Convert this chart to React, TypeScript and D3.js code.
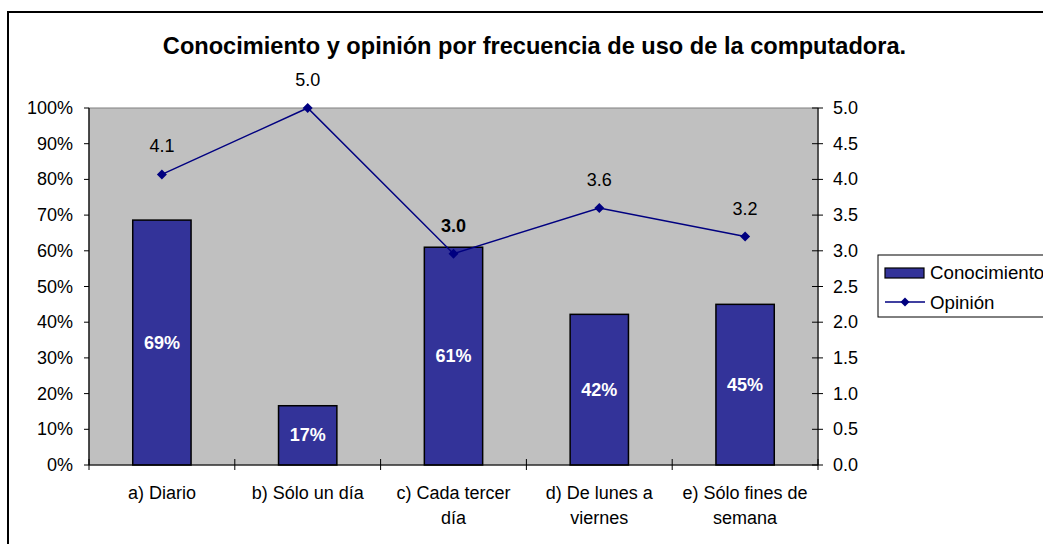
import React from "react";
import * as d3 from "d3";

const categories: string[][] = [
  ["a) Diario"],
  ["b) Sólo un día"],
  ["c) Cada tercer", "día"],
  ["d) De lunes a", "viernes"],
  ["e) Sólo fines de", "semana"],
];
const conocimiento: number[] = [0.686, 0.166, 0.61, 0.422, 0.45];
const conocimientoLabels: string[] = ["69%", "17%", "61%", "42%", "45%"];
const opinion: number[] = [4.07, 5.0, 2.96, 3.6, 3.2];
const opinionLabels: string[] = ["4.1", "5.0", "3.0", "3.6", "3.2"];
const leftTicks: number[] = [0, 0.1, 0.2, 0.3, 0.4, 0.5, 0.6, 0.7, 0.8, 0.9, 1.0];
const rightTicks: number[] = [0, 0.5, 1, 1.5, 2, 2.5, 3, 3.5, 4, 4.5, 5];

const W = 1043;
const H = 544;
const plot = { left: 89, right: 818, top: 108, bottom: 465 };
const FONT = "Liberation Sans, Arial, sans-serif";

export default function App() {
  const x = d3
    .scaleBand<number>()
    .domain(d3.range(categories.length))
    .range([plot.left, plot.right])
    .paddingInner(0.6)
    .paddingOuter(0.3);
  const band = (plot.right - plot.left) / categories.length;
  const yL = d3.scaleLinear().domain([0, 1]).range([plot.bottom, plot.top]);
  const yR = d3.scaleLinear().domain([0, 5]).range([plot.bottom, plot.top]);
  const cx = (i: number) => (x(i) as number) + x.bandwidth() / 2;

  const line = d3
    .line<number>()
    .x((_, i) => cx(i))
    .y((d) => yR(d));

  const diamond = (px: number, py: number, r = 5) =>
    `M${px},${py - r}L${px + r},${py}L${px},${py + r}L${px - r},${py}Z`;

  return (
    <svg
      width={W}
      height={H}
      style={{ position: "absolute", left: 0, top: 0 }}
      fontFamily={FONT}
    >
      <rect x={0} y={0} width={W} height={H} fill="#fff" />
      <rect x={8} y={12} width={1045} height={545} fill="#fff" stroke="#000" strokeWidth={2} />
      <text
        x={534.5}
        y={54}
        textAnchor="middle"
        fontWeight="bold"
        fontSize={23.6}
        fill="#000"
      >
        Conocimiento y opinión por frecuencia de uso de la computadora.
      </text>

      {/* plot area */}
      <rect
        x={plot.left}
        y={plot.top}
        width={plot.right - plot.left}
        height={plot.bottom - plot.top}
        fill="#c0c0c0"
        stroke="#808080"
        strokeWidth={1}
      />

      {/* bars */}
      {conocimiento.map((v, i) => (
        <rect
          key={i}
          x={x(i)}
          y={yL(v)}
          width={x.bandwidth()}
          height={yL(0) - yL(v)}
          fill="#333399"
          stroke="#000"
          strokeWidth={1.5}
        />
      ))}
      {conocimiento.map((v, i) => (
        <text
          key={i}
          x={cx(i)}
          y={(yL(v) + yL(0)) / 2 + 6}
          textAnchor="middle"
          fontWeight="bold"
          fontSize={18}
          fill="#fff"
        >
          {conocimientoLabels[i]}
        </text>
      ))}

      {/* axes */}
      <line x1={plot.left} x2={plot.left} y1={plot.top} y2={plot.bottom} stroke="#000" strokeWidth={1.2} />
      <line x1={plot.right} x2={plot.right} y1={plot.top} y2={plot.bottom} stroke="#333" strokeWidth={1.5} />
      <line x1={plot.left} x2={plot.right} y1={plot.bottom} y2={plot.bottom} stroke="#000" strokeWidth={1.2} />

      {leftTicks.map((t) => (
        <g key={t}>
          <line x1={plot.left - 5} x2={plot.left} y1={yL(t)} y2={yL(t)} stroke="#000" />
          <text x={73} y={yL(t) + 6} textAnchor="end" fontSize={18} fill="#000">
            {d3.format(".0%")(t)}
          </text>
        </g>
      ))}
      {rightTicks.map((t) => (
        <g key={t}>
          <line x1={plot.right - 6} x2={plot.right + 5} y1={yR(t)} y2={yR(t)} stroke="#000" />
          <text x={833} y={yR(t) + 6} textAnchor="start" fontSize={18} fill="#000">
            {d3.format(".1f")(t)}
          </text>
        </g>
      ))}
      {d3.range(categories.length + 1).map((i) => (
        <line
          key={i}
          x1={plot.left + i * band}
          x2={plot.left + i * band}
          y1={plot.bottom - 6}
          y2={plot.bottom + 5}
          stroke="#000"
        />
      ))}
      {categories.map((lines, i) => (
        <text key={i} x={cx(i)} textAnchor="middle" fontSize={18} fill="#000">
          {lines.map((l, j) => (
            <tspan key={j} x={cx(i)} y={499 + j * 25}>
              {l}
            </tspan>
          ))}
        </text>
      ))}

      {/* line series */}
      <path d={line(opinion) || ""} fill="none" stroke="#000080" strokeWidth={1.5} />
      {opinion.map((v, i) => (
        <path key={i} d={diamond(cx(i), yR(v))} fill="#000080" />
      ))}
      {opinion.map((v, i) => (
        <text
          key={i}
          x={cx(i)}
          y={yR(v) - 22}
          textAnchor="middle"
          fontSize={18}
          fontWeight={i === 2 ? "bold" : "normal"}
          fill="#000"
        >
          {opinionLabels[i]}
        </text>
      ))}

      {/* legend */}
      <rect x={878} y={255} width={180} height={62} fill="#fff" stroke="#000" strokeWidth={1} />
      <rect x={885} y={268} width={39} height={10} fill="#333399" stroke="#000" strokeWidth={1.2} />
      <text x={930} y={279} fontSize={18.7} fill="#000">
        Conocimiento
      </text>
      <line x1={885} x2={925} y1={302} y2={302} stroke="#000080" strokeWidth={1.5} />
      <path d={diamond(905, 302, 4.5)} fill="#000080" />
      <text x={930} y={309} fontSize={18.7} fill="#000">
        Opinión
      </text>
    </svg>
  );
}
